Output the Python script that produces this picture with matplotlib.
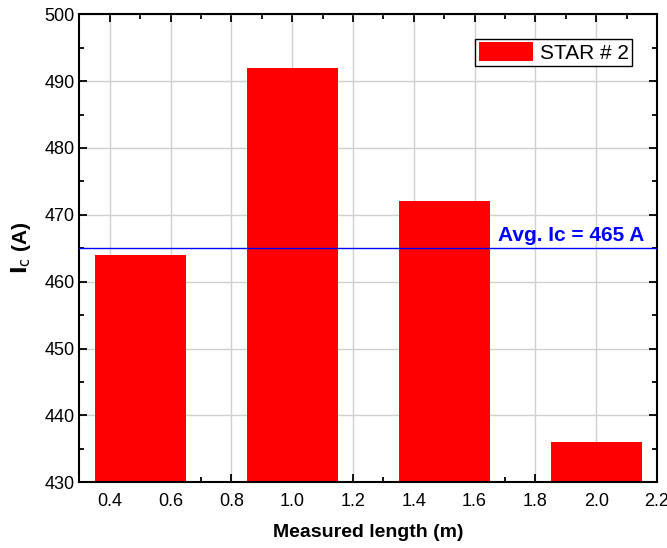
import matplotlib.pyplot as plt
from matplotlib.ticker import MultipleLocator

plt.rcParams['font.family'] = ['Liberation Sans', 'DejaVu Sans']

lengths = [0.5, 1.0, 1.5, 2.0]
ic = [464, 492, 472, 436]
avg_ic = 465

fig = plt.figure(figsize=(6.67, 5.48), dpi=100)
ax = fig.add_axes([0.119, 0.120, 0.866, 0.854])

ax.bar(lengths, ic, width=0.3, color='#ff0000', label='STAR # 2', zorder=2)
ax.axhline(avg_ic, color='#0000ff', lw=1.0, zorder=3)
ax.text(2.16, avg_ic + 0.5, 'Avg. Ic = 465 A', color='#0000ff', fontsize=15,
        fontweight='bold', ha='right', va='bottom', zorder=4)

ax.set_xlim(0.3, 2.2)
ax.set_ylim(430, 500)
ax.xaxis.set_major_locator(MultipleLocator(0.2))
ax.xaxis.set_minor_locator(MultipleLocator(0.1))
ax.yaxis.set_major_locator(MultipleLocator(10))
ax.yaxis.set_minor_locator(MultipleLocator(5))
ax.xaxis.set_major_formatter(plt.FormatStrFormatter('%.1f'))

ax.grid(True, which='major', color='#d0d0d0', lw=1.0, zorder=0)
ax.set_axisbelow(True)
ax.tick_params(which='both', direction='in', top=True, right=True, labelsize=13)
ax.tick_params(which='major', length=6, width=1.3)
ax.tick_params(which='minor', length=3.5, width=1.3)
ax.tick_params(axis='x', pad=8)
for s in ax.spines.values():
    s.set_linewidth(1.5)

ax.set_xlabel('Measured length (m)', fontsize=14, fontweight='bold', labelpad=10)
ax.set_ylabel(r'$\mathbf{I}_{\mathrm{c}}$ (A)', fontsize=15, fontweight='bold', labelpad=8)

leg = ax.legend(loc='upper right', fontsize=15, fancybox=False, edgecolor='black',
                framealpha=1, handlelength=2.6, handleheight=1.0, borderpad=0.15,
                borderaxespad=1.2, handletextpad=0.35)
leg.get_frame().set_linewidth(1.0)

fig.savefig('out.png', dpi=100)
